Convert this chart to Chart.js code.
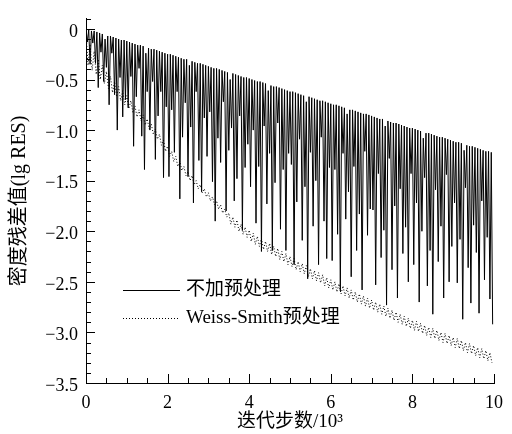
<!DOCTYPE html>
<html><head><meta charset="utf-8">
<style>html,body{margin:0;padding:0;background:#fff}</style>
<script src="https://cdn.jsdelivr.net/npm/chart.js@4/dist/chart.umd.min.js"></script>
</head><body>
<canvas id="c" width="512" height="434" style="display:block"></canvas>
<script>
const seriesNames = ['不加预处理', 'Weiss-Smith预处理'];
const xTitle = '迭代步数/10³';
const yTitle = '密度残差值(lg RES)';
const xTickValues = [0, 2, 4, 6, 8, 10];
const yTickValues = [-3.5, -3.0, -2.5, -2.0, -1.5, -1.0, -0.5, 0];
const plainStep = 10 / 150; // 10^3 iterations between successive residual peaks
const wsStep = 0.1;

const plainPeaks = [
  0.00,-0.01,-0.02,-0.02,-0.03,-0.04,-0.05,-0.10,-0.07,-0.07,-0.08,-0.09,-0.10,-0.11,-0.11,
 -0.12,-0.13,-0.14,-0.15,-0.16,-0.16,-0.17,-0.24,-0.19,-0.20,-0.20,-0.21,-0.22,-0.23,-0.24,
 -0.25,-0.25,-0.26,-0.27,-0.28,-0.29,-0.30,-0.30,-0.36,-0.32,-0.33,-0.34,-0.34,-0.35,-0.36,
 -0.37,-0.38,-0.39,-0.39,-0.40,-0.41,-0.42,-0.43,-0.50,-0.44,-0.45,-0.46,-0.47,-0.48,-0.48,
 -0.49,-0.50,-0.51,-0.52,-0.52,-0.53,-0.54,-0.61,-0.56,-0.57,-0.57,-0.58,-0.59,-0.60,-0.61,
 -0.62,-0.62,-0.63,-0.64,-0.65,-0.66,-0.72,-0.67,-0.68,-0.69,-0.70,-0.71,-0.71,-0.72,-0.73,
 -0.74,-0.75,-0.75,-0.76,-0.77,-0.78,-0.84,-0.80,-0.80,-0.81,-0.82,-0.83,-0.84,-0.84,-0.85,
 -0.86,-0.87,-0.88,-0.89,-0.89,-0.96,-0.91,-0.92,-0.93,-0.93,-0.94,-0.95,-0.96,-0.97,-0.98,
 -0.98,-0.99,-1.00,-1.01,-1.08,-1.03,-1.03,-1.04,-1.05,-1.06,-1.07,-1.07,-1.08,-1.09,-1.10,
 -1.11,-1.12,-1.12,-1.13,-1.20,-1.15,-1.16,-1.16,-1.17,-1.18,-1.19,-1.20,-1.21,-1.21,-1.22
];
const plainTroughs = [
 -0.13,-0.35,-0.14,-0.34,-0.58,-0.23,-0.52,-0.38,-0.75,-0.24,-0.65,-1.00,-0.48,-0.87,-0.70,
 -0.78,-0.47,-1.16,-0.67,-0.39,-1.06,-1.39,-0.62,-1.00,-0.52,-1.29,-0.86,-0.62,-1.47,-0.77,
 -1.46,-0.80,-1.22,-0.62,-1.68,-1.07,-0.73,-1.46,-0.97,-1.72,-0.62,-1.30,-1.61,-0.88,-1.26,
 -0.82,-1.51,-1.90,-1.08,-1.32,-0.72,-1.80,-1.20,-0.98,-1.70,-1.48,-0.86,-1.99,-1.37,-1.14,
 -1.56,-1.00,-1.92,-1.36,-2.20,-0.96,-1.73,-1.23,-2.19,-1.52,-0.93,-1.98,-1.39,-2.19,-1.23,
 -1.34,-2.33,-1.71,-1.09,-2.09,-1.56,-2.47,-1.22,-1.95,-1.50,-2.33,-1.07,-1.90,-2.27,-1.37,
 -2.29,-1.39,-2.03,-2.59,-1.23,-1.88,-1.61,-2.45,-1.36,-2.19,-1.83,-2.58,-1.21,-2.04,-1.78,
 -1.79,-2.53,-1.43,-2.26,-1.99,-2.73,-1.28,-2.38,-1.75,-2.66,-1.58,-2.22,-1.96,-2.50,-1.43,
 -2.33,-1.72,-2.70,-2.00,-1.47,-2.54,-2.19,-2.82,-1.59,-2.30,-1.95,-2.66,-1.44,-2.50,-2.15,
 -1.72,-2.51,-2.08,-2.87,-1.57,-2.36,-2.71,-1.94,-2.21,-2.81,-1.70,-2.48,-2.06,-2.67,-2.92
];
const wsPeaks = [
 -0.05,-0.15,-0.22,-0.30,-0.36,-0.42,-0.47,-0.52,-0.57,-0.61,
 -0.66,-0.71,-0.76,-0.80,-0.85,-0.89,-0.94,-0.99,-1.04,-1.10,
 -1.16,-1.21,-1.26,-1.31,-1.36,-1.41,-1.45,-1.50,-1.54,-1.58,
 -1.62,-1.66,-1.70,-1.74,-1.78,-1.82,-1.86,-1.89,-1.93,-1.96,
 -1.99,-2.02,-2.05,-2.07,-2.10,-2.12,-2.15,-2.17,-2.20,-2.22,
 -2.25,-2.27,-2.30,-2.32,-2.34,-2.37,-2.39,-2.41,-2.43,-2.46,
 -2.48,-2.50,-2.52,-2.54,-2.56,-2.58,-2.60,-2.62,-2.64,-2.66,
 -2.68,-2.70,-2.72,-2.74,-2.76,-2.78,-2.80,-2.82,-2.84,-2.86,
 -2.88,-2.89,-2.91,-2.93,-2.95,-2.96,-2.98,-3.00,-3.01,-3.03,
 -3.05,-3.06,-3.08,-3.10,-3.11,-3.13,-3.15,-3.16,-3.18,-3.20
];
const wsTroughs = [
 -0.36,-0.41,-0.45,-0.50,-0.54,-0.59,-0.63,-0.67,-0.71,-0.75,
 -0.79,-0.83,-0.87,-0.91,-0.95,-0.99,-1.04,-1.09,-1.15,-1.21,
 -1.26,-1.31,-1.36,-1.40,-1.45,-1.50,-1.54,-1.58,-1.62,-1.66,
 -1.70,-1.74,-1.78,-1.82,-1.86,-1.93,-1.96,-2.00,-2.03,-2.06,
 -2.10,-2.13,-2.15,-2.18,-2.20,-2.23,-2.25,-2.28,-2.30,-2.33,
 -2.35,-2.38,-2.40,-2.42,-2.45,-2.47,-2.49,-2.51,-2.54,-2.56,
 -2.58,-2.60,-2.62,-2.64,-2.66,-2.68,-2.70,-2.72,-2.74,-2.76,
 -2.78,-2.80,-2.82,-2.84,-2.86,-2.88,-2.90,-2.92,-2.94,-2.96,
 -2.98,-2.99,-3.01,-3.03,-3.05,-3.06,-3.08,-3.10,-3.11,-3.13,
 -3.15,-3.16,-3.18,-3.20,-3.21,-3.23,-3.25,-3.26,-3.28,-3.30
];

function zigzag(peaks, troughs, step) {
  const pts = [];
  for (let i = 0; i < peaks.length; i++) {
    pts.push({x: i * step, y: peaks[i]});
    if (i < troughs.length) pts.push({x: i * step + step / 2, y: troughs[i]});
  }
  return pts;
}
function fmt(v) {
  if (Math.abs(v) < 1e-9) return '0';
  return (v < 0 ? '\u2212' : '') + Math.abs(v).toFixed(1);
}
const SERIF = "'Liberation Serif','Noto Sans CJK SC'";

const tickPlugin = {
  id: 'inwardTicks',
  afterDraw(chart) {
    const {ctx, chartArea: a, scales: {x, y}} = chart;
    ctx.save();
    ctx.strokeStyle = '#000';
    ctx.lineWidth = 1;
    ctx.beginPath();
    for (let k = -35; k <= 1; k++) {
      const v = k / 10;
      const py = Math.round(y.getPixelForValue(v)) + 0.5;
      const len = (k % 5 === 0) ? 9 : 5;
      ctx.moveTo(a.left, py); ctx.lineTo(a.left + len, py);
    }
    for (let k = 0; k <= 20; k++) {
      const v = k / 2;
      const px = Math.round(x.getPixelForValue(v)) + 0.5;
      const len = (k % 4 === 0) ? 9 : 5;
      ctx.moveTo(px, a.bottom); ctx.lineTo(px, a.bottom - len);
    }
    ctx.stroke();
    ctx.restore();
  }
};
const legendPlugin = {
  id: 'innerLegend',
  afterDraw(chart) {
    const ctx = chart.ctx;
    const rows = [290, 318];
    chart.data.datasets.forEach((ds, i) => {
      const yy = rows[i];
      ctx.save();
      ctx.strokeStyle = ds.borderColor;
      ctx.lineWidth = 1;
      ctx.setLineDash(ds.borderDash || []);
      ctx.beginPath();
      ctx.moveTo(123, yy + 0.5); ctx.lineTo(180, yy + 0.5);
      ctx.stroke();
      ctx.setLineDash([]);
      ctx.fillStyle = '#000';
      ctx.font = "19px " + SERIF;
      ctx.textBaseline = 'middle';
      ctx.fillText(ds.label, 186, yy);
      ctx.restore();
    });
  }
};

new Chart(document.getElementById('c'), {
  type: 'line',
  data: {
    datasets: [
      {label: seriesNames[0], data: zigzag(plainPeaks, plainTroughs, plainStep), borderColor: '#000', borderWidth: 1, pointRadius: 0, tension: 0, fill: false},
      {label: seriesNames[1], data: zigzag(wsPeaks, wsTroughs, wsStep), borderColor: '#000', borderWidth: 1, borderDash: [1, 2], pointRadius: 0, tension: 0, fill: false}
    ]
  },
  options: {
    responsive: false, animation: false, devicePixelRatio: 1,
    layout: {padding: {top: 11, right: 14, left: 0, bottom: 0}},
    plugins: {legend: {display: false}, tooltip: {enabled: false}},
    scales: {
      x: {
        type: 'linear', min: 0, max: 10,
        afterBuildTicks: s => { s.ticks = xTickValues.map(v => ({value: v})); },
        afterFit: s => { s.height = 51; },
        grid: {display: false, drawTicks: false},
        border: {display: true, color: '#000', width: 1},
        ticks: {padding: 9, color: '#000', autoSkip: false, maxRotation: 0, font: {family: SERIF, size: 18}, callback: v => String(v)},
        title: {display: true, text: xTitle, color: '#000', font: {family: SERIF, size: 19}, padding: {top: 0, bottom: 1}}
      },
      y: {
        type: 'linear', min: -3.5, max: 0.1,
        afterBuildTicks: s => { s.ticks = yTickValues.map(v => ({value: v})); },
        afterFit: s => { s.width = 86; },
        grid: {display: false, drawTicks: false},
        border: {display: true, color: '#000', width: 1},
        ticks: {padding: 8, labelOffset: 3, color: '#000', autoSkip: false, font: {family: SERIF, size: 18}, callback: v => fmt(v)},
        title: {display: true, text: yTitle, color: '#000', font: {family: SERIF, size: 20}, padding: {top: 8, bottom: 0}}
      }
    }
  },
  plugins: [tickPlugin, legendPlugin]
});
</script>
</body></html>
